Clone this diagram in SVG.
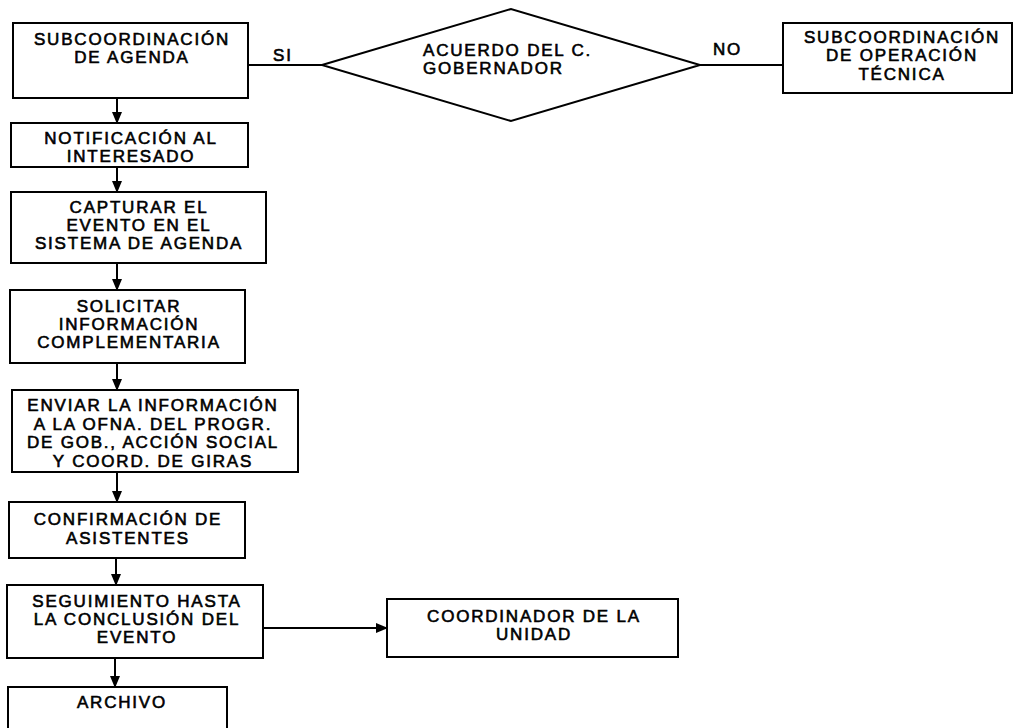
<svg xmlns="http://www.w3.org/2000/svg" width="1014" height="728" viewBox="0 0 1014 728">
<defs>
<style>
.box{fill:#fff;stroke:#000;stroke-width:2}
.t{font-family:"Liberation Sans",Arial,sans-serif;font-size:17px;letter-spacing:1.8px;fill:#000;stroke:#000;stroke-width:0.6;text-anchor:middle}
.ts{text-anchor:start}
.c{fill:none;stroke:#000;stroke-width:2}
</style>
<marker id="ah" markerWidth="12" markerHeight="10" refX="11" refY="5" orient="auto" markerUnits="userSpaceOnUse">
<path d="M0,0 L12,5 L0,10 Z" fill="#000"/>
</marker>
</defs>
<rect width="1014" height="728" fill="#fff"/>
<g id="connectors">
<line class="c" x1="248" y1="65" x2="322" y2="65"/>
<line class="c" x1="700" y1="65" x2="783" y2="65"/>
<line class="c" x1="117" y1="98" x2="117" y2="123" marker-end="url(#ah)"/>
<line class="c" x1="117" y1="167" x2="117" y2="192" marker-end="url(#ah)"/>
<line class="c" x1="117" y1="263" x2="117" y2="290" marker-end="url(#ah)"/>
<line class="c" x1="117" y1="363" x2="117" y2="390" marker-end="url(#ah)"/>
<line class="c" x1="117" y1="472" x2="117" y2="502" marker-end="url(#ah)"/>
<line class="c" x1="116" y1="558" x2="116" y2="585" marker-end="url(#ah)"/>
<line class="c" x1="115" y1="658" x2="115" y2="687" marker-end="url(#ah)"/>
<line class="c" x1="263" y1="628" x2="387" y2="628" marker-end="url(#ah)"/>
<text class="t ts" x="273" y="61">SI</text>
<text class="t ts" x="713" y="55">NO</text>
</g>
<g id="n-agenda">
<rect class="box" x="13" y="23" width="235" height="75"/>
<text class="t" x="132" y="45">SUBCOORDINACIÓN</text>
<text class="t" x="132" y="63">DE AGENDA</text>
</g>
<g id="n-acuerdo">
<polygon class="box" points="322,65 511,9 700,65 511,121"/>
<text class="t ts" x="423" y="56">ACUERDO DEL C.</text>
<text class="t ts" x="423" y="74">GOBERNADOR</text>
</g>
<g id="n-operacion">
<rect class="box" x="783" y="23" width="229" height="70"/>
<text class="t" x="902" y="43">SUBCOORDINACIÓN</text>
<text class="t" x="902" y="61">DE OPERACIÓN</text>
<text class="t" x="902" y="80">TÉCNICA</text>
</g>
<g id="n-notificacion">
<rect class="box" x="11" y="123" width="237" height="44"/>
<text class="t" x="131" y="144">NOTIFICACIÓN AL</text>
<text class="t" x="131" y="162">INTERESADO</text>
</g>
<g id="n-capturar">
<rect class="box" x="11" y="192" width="255" height="71"/>
<text class="t" x="139" y="213">CAPTURAR EL</text>
<text class="t" x="139" y="231">EVENTO EN EL</text>
<text class="t" x="139" y="249">SISTEMA DE AGENDA</text>
</g>
<g id="n-solicitar">
<rect class="box" x="10" y="290" width="235" height="73"/>
<text class="t" x="129" y="312">SOLICITAR</text>
<text class="t" x="129" y="330">INFORMACIÓN</text>
<text class="t" x="129" y="348">COMPLEMENTARIA</text>
</g>
<g id="n-enviar">
<rect class="box" x="12" y="390" width="286" height="82"/>
<text class="t" x="153" y="411">ENVIAR LA INFORMACIÓN</text>
<text class="t" x="153" y="429.5">A LA OFNA. DEL PROGR.</text>
<text class="t" x="153" y="448">DE GOB., ACCIÓN SOCIAL</text>
<text class="t" x="153" y="466.5">Y COORD. DE GIRAS</text>
</g>
<g id="n-confirmacion">
<rect class="box" x="9" y="502" width="236" height="56"/>
<text class="t" x="128" y="525">CONFIRMACIÓN DE</text>
<text class="t" x="128" y="544">ASISTENTES</text>
</g>
<g id="n-seguimiento">
<rect class="box" x="7" y="585" width="256" height="73"/>
<text class="t" x="137" y="607">SEGUIMIENTO HASTA</text>
<text class="t" x="137" y="625">LA CONCLUSIÓN DEL</text>
<text class="t" x="137" y="643">EVENTO</text>
</g>
<g id="n-coordinador">
<rect class="box" x="387" y="599" width="291" height="58"/>
<text class="t" x="534" y="622">COORDINADOR DE LA</text>
<text class="t" x="534" y="640">UNIDAD</text>
</g>
<g id="n-archivo">
<rect class="box" x="8" y="687" width="219" height="50"/>
<text class="t" x="122" y="708">ARCHIVO</text>
</g>
</svg>
